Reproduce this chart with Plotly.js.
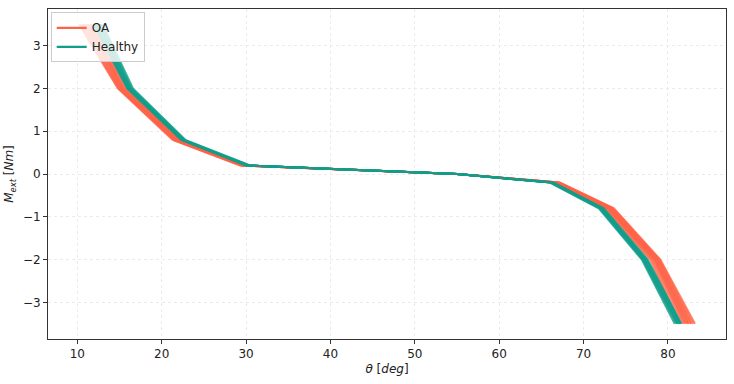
<!DOCTYPE html>
<html>
<head>
<meta charset="utf-8">
<script src="https://cdn.plot.ly/plotly-3.0.1.min.js"></script>
<style>html,body{margin:0;padding:0;background:#fff;}#chart{width:734px;height:384px;}</style>
</head>
<body>
<div id="chart"></div>
<script>
// Moment knots (shared by every curve), Nm
const momentKnots = [3.5, 2, 0.8, 0.2, 0, -0.2, -0.8, -2, -3.5];

// Joint angle at each knot, deg — OA group
const oaCurves = [
  [10.2, 14.8, 21.3, 29.3, 55, 67.2, 73.6, 79.1, 83.2],
  [10.4, 14.9, 21.4, 29.4, 55, 67.1, 73.5, 79.0, 83.0],
  [10.6, 15.0, 21.5, 29.5, 55, 67.0, 73.4, 78.9, 82.8],
  [10.8, 15.1, 21.6, 29.6, 55, 66.95, 73.3, 78.8, 82.7],
  [11.0, 15.2, 21.7, 29.7, 55, 66.9, 73.2, 78.7, 82.5],
  [11.2, 15.3, 21.8, 29.75, 55, 66.85, 73.1, 78.6, 82.4],
  [11.3, 15.4, 21.9, 29.8, 55, 66.8, 73.0, 78.5, 82.3],
  [11.5, 15.5, 22.0, 29.9, 55, 66.75, 72.9, 78.4, 82.1],
  [11.6, 15.6, 22.1, 29.95, 55, 66.7, 72.8, 78.3, 82.0],
  [11.8, 15.8, 22.3, 30.1, 55, 66.6, 72.7, 78.1, 81.8],
  [12.0, 16.0, 22.5, 30.2, 55, 66.5, 72.5, 77.9, 81.5]
];

// Joint angle at each knot, deg — Healthy group
const healthyCurves = [
  [11.9, 15.9, 22.3, 30.0, 55, 66.4, 72.4, 77.6, 81.6],
  [12.1, 16.0, 22.4, 30.1, 55, 66.35, 72.3, 77.5, 81.5],
  [12.2, 16.1, 22.45, 30.15, 55, 66.3, 72.2, 77.4, 81.4],
  [12.4, 16.2, 22.5, 30.2, 55, 66.25, 72.15, 77.3, 81.3],
  [12.5, 16.25, 22.55, 30.25, 55, 66.2, 72.1, 77.2, 81.2],
  [12.7, 16.35, 22.6, 30.3, 55, 66.15, 72.0, 77.1, 81.1],
  [12.8, 16.45, 22.7, 30.4, 55, 66.1, 71.9, 77.0, 81.0],
  [13.0, 16.6, 22.8, 30.5, 55, 66.0, 71.8, 76.9, 80.8]
];

const groupNames = ['OA', 'Healthy'];
const groupColors = ['#FF6347', '#119E8A'];

const traces = [];
[oaCurves, healthyCurves].forEach((curves, g) => {
  curves.forEach(xs => {
    traces.push({
      x: xs, y: momentKnots, type: 'scatter', mode: 'lines',
      line: {color: groupColors[g], width: 2}, opacity: 0.8,
      showlegend: false, hoverinfo: 'skip'
    });
  });
});
groupNames.forEach((n, g) => {
  traces.push({
    x: [null], y: [null], type: 'scatter', mode: 'lines', name: n,
    line: {color: groupColors[g], width: 2.2}, showlegend: true
  });
});

const axisCommon = {
  showline: true, mirror: true, linecolor: '#333', linewidth: 1,
  ticks: 'outside', ticklen: 4, tickcolor: '#333', tickwidth: 1,
  showgrid: true, gridcolor: '#e6e6e6', gridwidth: 0.8, griddash: '3px,3px',
  zeroline: false, tickfont: {size: 12, color: '#222'}
};

const layout = {
  width: 734, height: 384,
  margin: {l: 48, r: 8, t: 9, b: 45},
  paper_bgcolor: '#fff', plot_bgcolor: '#fff',
  font: {family: 'DejaVu Sans, sans-serif', color: '#222'},
  xaxis: Object.assign({}, axisCommon, {
    range: [6.53, 86.88], tickvals: [10, 20, 30, 40, 50, 60, 70, 80],
    title: {text: '<i>θ</i> [<i>deg</i>]', font: {size: 12}, standoff: 4}
  }),
  yaxis: Object.assign({}, axisCommon, {
    range: [-3.855, 3.857], tickvals: [-3, -2, -1, 0, 1, 2, 3],
    ticktext: ['\u22123', '\u22122', '\u22121', '0', '1', '2', '3'],
    title: {text: '<i>M</i><sub><i>ext</i></sub> [<i>Nm</i>]', font: {size: 12}, standoff: 6}
  }),
  legend: {
    x: 0.004, y: 0.99, xanchor: 'left', yanchor: 'top',
    bgcolor: 'rgba(255,255,255,0.8)', bordercolor: '#cccccc', borderwidth: 1,
    font: {size: 12, color: '#222'}, tracegroupgap: 0
  },
  showlegend: true
};

Plotly.newPlot('chart', traces, layout, {staticPlot: true, displayModeBar: false});
</script>
</body>
</html>
